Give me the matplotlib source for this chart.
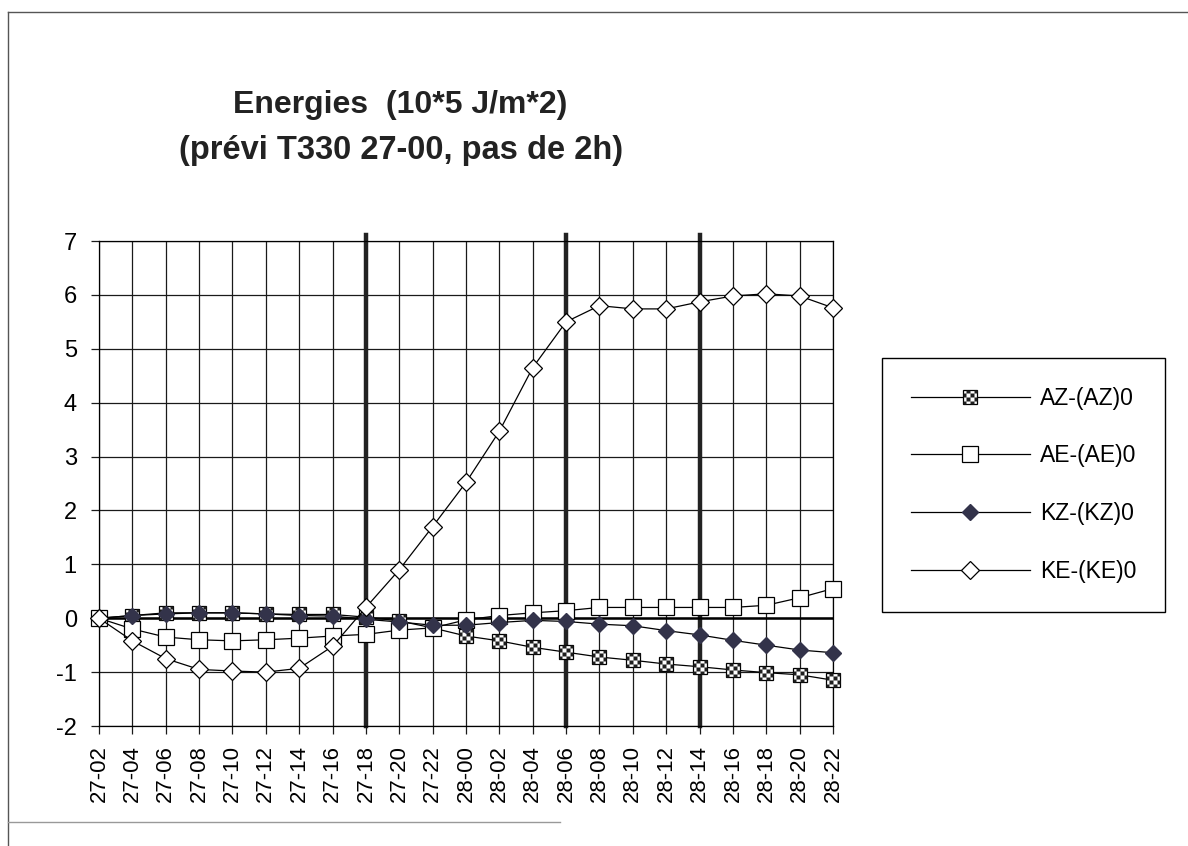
import numpy as np
import matplotlib.pyplot as plt
from matplotlib.path import Path
from matplotlib.lines import Line2D
from matplotlib.legend_handler import HandlerTuple

# forecast steps (day-hour), every 2h
hours = ['27-02', '27-04', '27-06', '27-08', '27-10', '27-12', '27-14', '27-16',
         '27-18', '27-20', '27-22', '28-00', '28-02', '28-04', '28-06', '28-08',
         '28-10', '28-12', '28-14', '28-16', '28-18', '28-20', '28-22']

# energy anomalies (10^5 J/m^2)
az = [0.0, 0.05, 0.1, 0.1, 0.1, 0.08, 0.07, 0.07, 0.02, -0.05, -0.18, -0.33,
      -0.42, -0.54, -0.63, -0.72, -0.78, -0.85, -0.9, -0.96, -1.01, -1.05, -1.15]
ae = [0.0, -0.2, -0.35, -0.4, -0.42, -0.4, -0.37, -0.33, -0.3, -0.22, -0.18, -0.03,
      0.05, 0.1, 0.14, 0.2, 0.2, 0.2, 0.2, 0.2, 0.24, 0.38, 0.55]
kz = [0.0, 0.05, 0.08, 0.1, 0.1, 0.08, 0.05, 0.04, -0.02, -0.07, -0.13, -0.13,
      -0.08, -0.04, -0.06, -0.11, -0.14, -0.23, -0.31, -0.41, -0.5, -0.59, -0.64]
ke = [0.0, -0.42, -0.75, -0.95, -0.98, -1.0, -0.93, -0.52, 0.2, 0.9, 1.7, 2.52,
      3.47, 4.65, 5.5, 5.8, 5.74, 5.74, 5.87, 5.98, 6.02, 5.98, 5.76]

names = ['AZ-(AZ)0', 'AE-(AE)0', 'KZ-(KZ)0', 'KE-(KE)0']
thick_at = ['27-18', '28-06', '28-14']

plt.rcParams['font.family'] = ['Liberation Sans', 'DejaVu Sans']


def checker_marker(n=4):
    """Square marker made of alternating filled cells"""
    verts, codes = [], []
    step = 1.0 / n
    for i in range(n):
        for j in range(n):
            if (i + j) % 2 == 0:
                x0 = -0.5 + i * step
                y0 = -0.5 + j * step
                verts += [(x0, y0), (x0 + step, y0), (x0 + step, y0 + step),
                          (x0, y0 + step), (x0, y0)]
                codes += [Path.MOVETO, Path.LINETO, Path.LINETO, Path.LINETO,
                          Path.CLOSEPOLY]
    return Path(verts, codes)


W, H = 1188, 846
fig = plt.figure(figsize=(W / 100, H / 100), dpi=100)
ax = fig.add_axes([99 / W, 1 - 726 / H, (833 - 99) / W, (726 - 241) / H])

x = np.arange(len(hours))

# grid and separators
ax.grid(True, color='#1a1a1a', lw=0.9)
ax.set_axisbelow(True)
for h in thick_at:
    ax.axvline(hours.index(h), ymax=1.012, color='#222222', lw=3.2, zorder=1.5,
               clip_on=False)
ax.axhline(0, color='black', lw=1.8, zorder=1.6)

# series
l_az, = ax.plot(x, az, color='black', lw=0.9, marker='s', ms=10.5, mfc='white',
                mec='black', mew=0.9, zorder=3, clip_on=False)
c_az, = ax.plot(x, az, ls='none', marker=checker_marker(), ms=10.5, mfc='#1e1e1e',
                mec='none', zorder=3.1, clip_on=False)
l_ae, = ax.plot(x, ae, color='black', lw=0.9, marker='s', ms=11, mfc='white',
                mec='black', mew=0.9, zorder=4, clip_on=False)
l_kz, = ax.plot(x, kz, color='black', lw=0.9, marker='D', ms=8, mfc='#33334a',
                mec='#33334a', zorder=5, clip_on=False)
l_ke, = ax.plot(x, ke, color='black', lw=0.9, marker='D', ms=9.3, mfc='white',
                mec='black', mew=0.9, zorder=6, clip_on=False)

ax.set_xlim(0, len(hours) - 1)
ax.set_ylim(-2, 7)
ax.set_xticks(x)
ax.set_xticklabels(hours, rotation=90)
ax.set_yticks(range(-2, 8))
ax.set_yticklabels([str(v) for v in range(-2, 8)])
ax.tick_params(axis='both', direction='out', length=6, width=0.9, color='#1a1a1a')
ax.tick_params(axis='x', labelsize=16, pad=8)
ax.tick_params(axis='y', labelsize=17, pad=10)
for s in ax.spines.values():
    s.set_linewidth(0.9)

# titles
fig.text(400 / W, 1 - 105 / H, 'Energies  (10*5 J/m*2)', ha='center', va='center',
         fontsize=23, fontweight='bold', color='#222222')
fig.text(401 / W, 1 - 150 / H, '(prévi T330 27-00, pas de 2h)', ha='center',
         va='center', fontsize=23.5, fontweight='bold', color='#222222')

# legend
leg = fig.legend([(l_az, c_az), l_ae, l_kz, l_ke], names,
                 handler_map={tuple: HandlerTuple(ndivide=1, pad=0)},
                 loc='upper left', bbox_to_anchor=(882 / W, 1 - 358 / H),
                 bbox_transform=fig.transFigure, borderaxespad=0,
                 fontsize=16.5, handlelength=5.2, handletextpad=0.44,
                 labelspacing=1.52, borderpad=1.25,
                 fancybox=False, edgecolor='black', framealpha=1)
leg.get_frame().set_linewidth(1.0)

# page frame of the scanned sheet
fig.add_artist(Line2D([8 / W, 1], [1 - 12 / H, 1 - 12 / H], color='#555555', lw=1))
fig.add_artist(Line2D([8 / W, 8 / W], [0, 1 - 12 / H], color='#555555', lw=1))
fig.add_artist(Line2D([8 / W, 560 / W], [1 - 822 / H, 1 - 822 / H], color='#999999', lw=1))

fig.savefig('out.png', dpi=100)
